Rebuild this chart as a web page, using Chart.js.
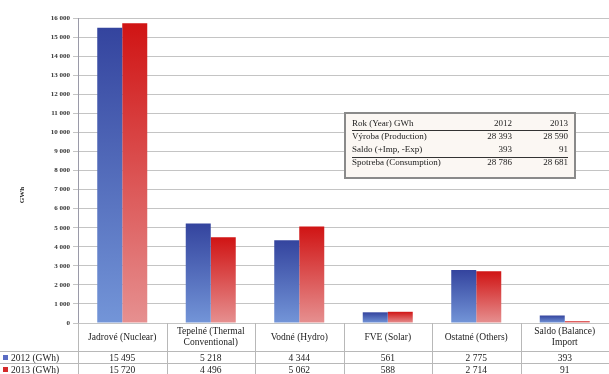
<!DOCTYPE html>
<html>
<head>
<meta charset="utf-8">
<script src="https://cdn.jsdelivr.net/npm/chart.js@4/dist/chart.umd.min.js"></script>
<style>
  html, body { margin: 0; padding: 0; background: #ffffff; }
  #wrap { width: 609px; height: 374px; overflow: hidden; }
</style>
</head>
<body>
<div id="wrap"><canvas id="c" width="609" height="374"></canvas></div>
<script>
// Electricity by source, GWh
const categories = [
  ['Jadrové (Nuclear)'],
  ['Tepelné (Thermal', 'Conventional)'],
  ['Vodné (Hydro)'],
  ['FVE (Solar)'],
  ['Ostatné (Others)'],
  ['Saldo (Balance)', 'Import']
];
const values2012 = [15495, 5218, 4344, 561, 2775, 393];
const values2013 = [15720, 4496, 5062, 588, 2714, 91];
const seriesNames = ['2012 (GWh)', '2013 (GWh)'];

// Summary box
const summaryHeader = ['Rok (Year) GWh', '2012', '2013'];
const summaryLabels = ['Výroba (Production)', 'Saldo (+Imp, -Exp)', 'Spotreba (Consumption)'];
const summary2012 = [28393, 393, 28786];
const summary2013 = [28590, 91, 28681];

const yTickMax = 16000;
const yTickStep = 1000;

const SERIF = '"Liberation Serif", "DejaVu Serif", serif';

function fmt(n) {
  return String(n).replace(/\B(?=(\d{3})+(?!\d))/g, ' ');
}

// vertical gradient per bar, from the bar top down to the baseline
function barGradient(top, bottom) {
  return function (context) {
    const chart = context.chart;
    const area = chart.chartArea;
    if (!area || context.type !== 'data') return top;
    const y = chart.scales.y;
    const yTop = y.getPixelForValue(context.parsed.y);
    const yBase = y.getPixelForValue(0);
    const g = chart.ctx.createLinearGradient(0, yTop, 0, Math.max(yBase, yTop + 1));
    g.addColorStop(0, top);
    g.addColorStop(1, bottom);
    return g;
  };
}

const tablePlugin = {
  id: 'dataTable',
  afterDraw(chart) {
    const ctx = chart.ctx;
    const x = chart.scales.x;
    const area = chart.chartArea;
    const top = area.bottom;
    const headerBottom = 351;
    const row1Bottom = 363;
    const row2Bottom = 375;
    const half = (x.getPixelForValue(1) - x.getPixelForValue(0)) / 2;

    ctx.save();
    ctx.strokeStyle = '#b8b8b8';
    ctx.lineWidth = 1;
    // vertical lines
    for (let i = 0; i <= categories.length; i++) {
      const px = Math.round(x.getPixelForValue(0) - half + i * 2 * half) + 0.5;
      ctx.beginPath();
      ctx.moveTo(px, top);
      ctx.lineTo(px, row2Bottom);
      ctx.stroke();
    }
    // horizontal lines
    [headerBottom, row1Bottom].forEach(yy => {
      ctx.beginPath();
      ctx.moveTo(0, yy + 0.5);
      ctx.lineTo(chart.width, yy + 0.5);
      ctx.stroke();
    });

    ctx.fillStyle = '#222';
    ctx.textAlign = 'center';
    ctx.textBaseline = 'middle';
    ctx.font = '9.5px ' + SERIF;
    categories.forEach((lines, i) => {
      const cx = x.getPixelForValue(i);
      const mid = (top + headerBottom) / 2;
      const lh = 11;
      lines.forEach((t, k) => {
        ctx.fillText(t, cx, mid + (k - (lines.length - 1) / 2) * lh);
      });
      ctx.fillText(fmt(values2012[i]), cx, (headerBottom + row1Bottom) / 2 + 1);
      ctx.fillText(fmt(values2013[i]), cx, (row1Bottom + row2Bottom) / 2 + 1);
    });

    // legend keys in the first column
    const keys = ['#5a6cc4', '#d42a2a'];
    ctx.textAlign = 'left';
    seriesNames.forEach((name, k) => {
      const yy = k === 0 ? (headerBottom + row1Bottom) / 2 + 1 : (row1Bottom + row2Bottom) / 2 + 1;
      ctx.fillStyle = keys[k];
      ctx.fillRect(3, yy - 3, 5, 5);
      ctx.fillStyle = '#222';
      ctx.fillText(name, 11, yy);
    });

    // axis title
    ctx.save();
    ctx.translate(22, 195);
    ctx.rotate(-Math.PI / 2);
    ctx.textAlign = 'center';
    ctx.font = 'bold 7px ' + SERIF;
    ctx.fillText('GWh', 0, 0);
    ctx.restore();

    // summary box
    const bx = 345, by = 113, bw = 230, bh = 65;
    ctx.fillStyle = '#fbf7f3';
    ctx.fillRect(bx, by, bw, bh);
    ctx.strokeStyle = '#8a8a8a';
    ctx.lineWidth = 2;
    ctx.strokeRect(bx, by, bw, bh);
    ctx.lineWidth = 1;

    ctx.font = '9px ' + SERIF;
    ctx.fillStyle = '#222';
    const c0 = 352, c1 = 512, c2 = 568;
    const rowsY = [124, 137, 150, 163];
    const drawRow = (yy, a, b, c) => {
      ctx.textAlign = 'left';
      ctx.fillText(a, c0, yy);
      ctx.textAlign = 'right';
      ctx.fillText(b, c1, yy);
      ctx.fillText(c, c2, yy);
    };
    drawRow(rowsY[0], summaryHeader[0], summaryHeader[1], summaryHeader[2]);
    summaryLabels.forEach((lab, i) => {
      drawRow(rowsY[i + 1], lab, fmt(summary2012[i]), fmt(summary2013[i]));
    });
    ctx.strokeStyle = '#333';
    [130.5, 157.5].forEach(yy => {
      ctx.beginPath();
      ctx.moveTo(c0, yy);
      ctx.lineTo(c2, yy);
      ctx.stroke();
    });
    ctx.restore();
  }
};

new Chart(document.getElementById('c'), {
  type: 'bar',
  data: {
    labels: categories.map(c => c.join(' ')),
    datasets: [
      {
        label: seriesNames[0],
        data: values2012,
        backgroundColor: barGradient('#34449e', '#7395d8'),
        borderWidth: 0
      },
      {
        label: seriesNames[1],
        data: values2013,
        backgroundColor: barGradient('#d01414', '#e69090'),
        borderWidth: 0
      }
    ]
  },
  options: {
    responsive: false,
    animation: false,
    devicePixelRatio: 1,
    layout: { padding: { top: 18, right: 0, bottom: 51, left: 0 } },
    plugins: {
      legend: { display: false },
      tooltip: { enabled: false }
    },
    datasets: {
      bar: { categoryPercentage: 0.565, barPercentage: 1.0 }
    },
    scales: {
      x: {
        display: false,
        offset: true,
        grid: { display: false }
      },
      y: {
        min: 0,
        max: yTickMax,
        afterFit(scale) { scale.width = 78; },
        ticks: {
          stepSize: yTickStep,
          padding: 3,
          color: '#333',
          font: { family: SERIF, size: 7, weight: 'bold' },
          callback: v => fmt(v)
        },
        grid: {
          color: '#c4c4c4',
          tickLength: 5,
          drawTicks: true
        },
        border: { color: '#9a9aa8', width: 1 }
      }
    }
  },
  plugins: [tablePlugin]
});
</script>
</body>
</html>
